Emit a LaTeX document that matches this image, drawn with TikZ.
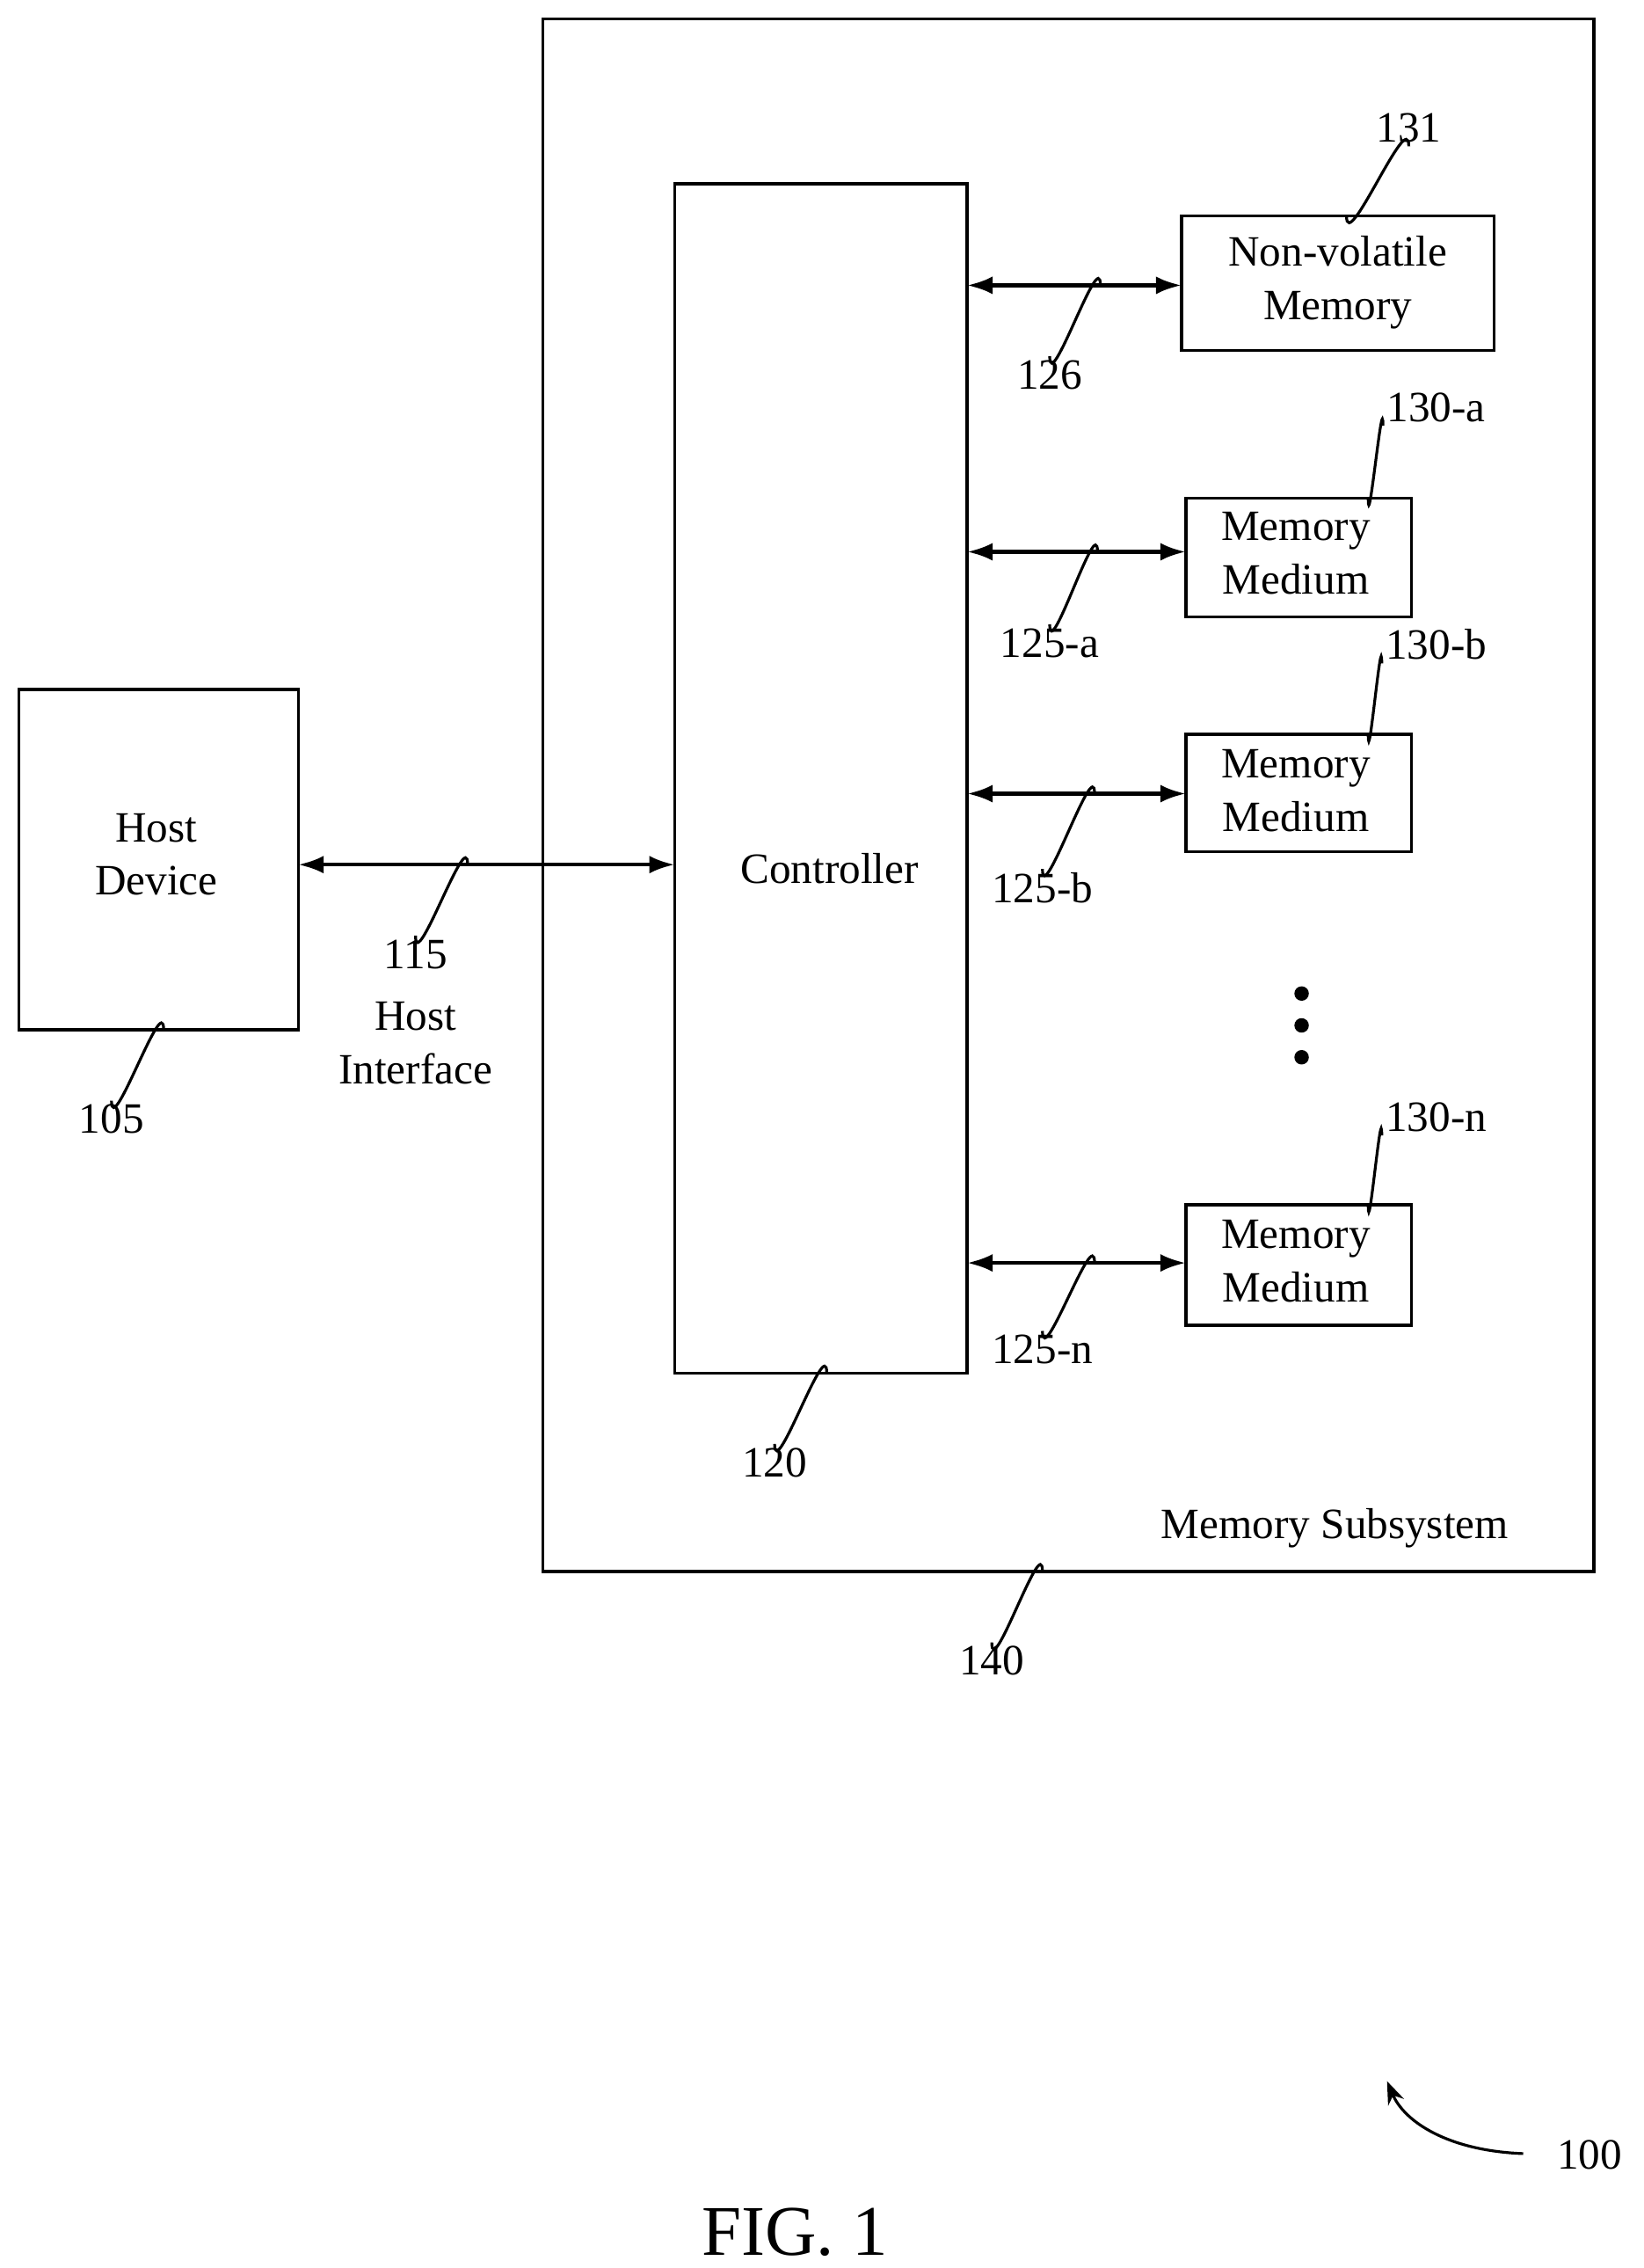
\documentclass[tikz,border=0pt]{standalone}
\usepackage{fontspec}
\setmainfont{Liberation Serif}
\usetikzlibrary{arrows.meta}
\newcommand{\refleader}[2]{\draw[thin] (#1) .. controls +(0,-28) and +(0,28) .. (#2);}
\tikzset{every path/.style={line width=1.2pt},
  box/.style={draw,align=center},
  bus/.style={{Latex[length=10pt,width=7pt]}-{Latex[length=10pt,width=7pt]},line width=1.5pt},
  thin/.style={line width=1.1pt},
  num/.style={font=\fontsize{17}{20}\selectfont,inner sep=1pt}}

\begin{document}
\begin{tikzpicture}[x=0.02cm,y=-0.02cm,font=\fontsize{17}{21}\selectfont]
\useasboundingbox (0,0) rectangle (1135,1566);

\draw (375,13) rectangle (1101,1085);
\node at (922,1055) {Memory Subsystem};
\draw (466,127) rectangle (668,948);
\node (ctrl) at (573,600) {Controller};
\draw (13,476) rectangle (206,711);
\node[align=center] (host) at (108,590) {Host\\Device};

\draw (816,149) rectangle (1032,242);
\node[align=center] (nvm) at (924,195) {Non-volatile\\Memory};
\draw (819,344) rectangle (975,426);
\node[align=center] (mma) at (895,382) {Memory\\Medium};
\draw (819,507) rectangle (975,588);
\node[align=center] (mmb) at (895,546) {Memory\\Medium};
\draw (819,832) rectangle (975,915);
\node[align=center] (mmn) at (895,871) {Memory\\Medium};
\foreach \y in {686,708,730} \fill (899,\y) circle[radius=5];

% buses
\draw[bus] (206,597) -- (466,597);
\draw[bus] (668,197) -- (816,197);
\draw[bus] (668,381) -- (819,381);
\draw[bus] (668,548) -- (819,548);
\draw[bus] (668,872) -- (819,872);

% reference numerals
\node[num,anchor=north] (n115) at (287,646) {115};
\node[align=center] at (287,720) {Host\\Interface};
\refleader{323,597}{n115.north}
\node[num,anchor=north] (n105) at (77,760) {105};
\refleader{113,711}{n105.north}
\node[num,anchor=north] (n120) at (535,997) {120};
\refleader{571,948}{n120.north}
\node[num,anchor=north] (n140) at (685,1134) {140};
\refleader{720,1085}{n140.north}
\node[num,anchor=north] (n126) at (725,246) {126};
\refleader{760,197}{n126.north}
\node[num,anchor=north] (n125a) at (725,431) {125-a};
\refleader{758,381}{n125a.north}
\node[num,anchor=north] (n125b) at (720,600) {125-b};
\refleader{756,548}{n125b.north}
\node[num,anchor=north] (n125n) at (720,919) {125-n};
\refleader{756,872}{n125n.north}
\node[num,anchor=south] (n131) at (973,101) {131};
\refleader{n131.south}{930,149}
\node[num,anchor=south] (n130a) at (992,294) {130-a};
\refleader{n130a.south west}{945,344}
\node[num,anchor=south] (n130b) at (992,458) {130-b};
\refleader{n130b.south west}{945,507}
\node[num,anchor=south] (n130n) at (992,784) {130-n};
\refleader{n130n.south west}{945,832}

\node[num] (n100) at (1098,1488) {100};
\draw[thin,-{Stealth[length=9pt]}] (1052,1487) .. controls (1000,1485) and (970,1465) .. (958,1437);
\node[font=\fontsize{28}{32}\selectfont] (fig) at (549,1541) {FIG. 1};
\end{tikzpicture}
\end{document}
